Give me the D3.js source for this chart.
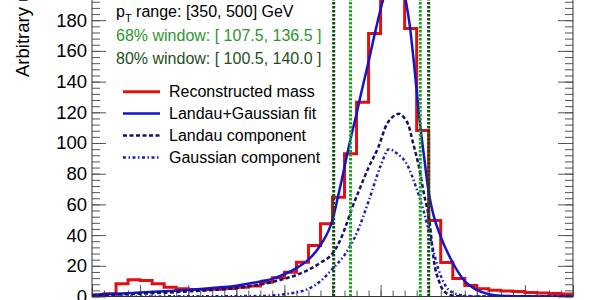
<!DOCTYPE html>
<html>
<head>
<meta charset="utf-8">
<script src="https://cdn.jsdelivr.net/npm/d3@7"></script>
<style>
body { margin: 0; background: #fff; }
text { font-family: "Liberation Sans", Arial, Helvetica, sans-serif; }
</style>
</head>
<body>
<script>
// reconstructed mass histogram, 5 GeV bins
const binLow = [0, 5, 10, 15, 20, 25, 30, 35, 40, 45, 50, 55, 60, 65, 70, 75, 80, 85, 90, 95,
  100, 105, 110, 115, 120, 125, 130, 135, 140, 145, 150, 155, 160, 165, 170, 175, 180, 185, 190, 195];
const binWidth = 5;
const histCounts = [1.0, 1.8, 8.3, 10.9, 10.4, 8.3, 6.1, 5.0, 4.6, 4.6, 4.8, 5.2, 6.0, 6.8, 9.3, 12.2, 15.8, 22.3, 33.2, 47.4,
  64.7, 93.0, 126.6, 171.3, 205, 212, 174.6, 108.1, 49.5, 22.1, 11.7, 7.2, 5.0, 4.1, 3.6, 3.3, 2.6, 2.3, 2.0, 1.6];

// Landau+Gaussian fit
const fitX = [0, 10, 20, 30, 40, 50, 60, 70, 75, 80, 85, 90, 95, 100, 102, 104, 106, 108, 110, 112, 115, 118, 121,
  124, 126, 128, 130, 132, 134, 136, 138, 140, 142, 145, 150, 155, 160, 165, 170, 180, 200];
const fitY = [1.0, 1.8, 2.6, 3.4, 4.3, 5.5, 7.0, 9.8, 11.5, 14.5, 18.5, 24, 33.5, 50, 63, 77, 92, 106, 119, 133, 153, 174, 193,
  205, 208, 205, 196, 178, 150, 118, 92, 68, 53, 39, 22, 10, 4.3, 1.5, 0.5, 0.1, 0];

const landauX = [0, 10, 20, 30, 40, 50, 60, 70, 75, 80, 85, 90, 95, 100, 103, 106, 108, 111, 115, 119, 122.5, 125, 127.6,
  130, 131.5, 133.5, 136, 138, 140.5, 142, 144.5, 147.5, 151, 160, 200];
const landauY = [0.8, 1.2, 1.8, 2.5, 3.3, 4.2, 5.5, 7.8, 9.5, 11.5, 14, 17.5, 22, 28, 36, 48, 57, 69, 84, 97, 112, 117, 119,
  116, 112, 100, 84, 67, 47, 25, 9, 2, 0.3, 0, 0];

const gaussX = [0, 70, 80, 90, 95, 100, 105, 110, 115, 120, 123.5, 127, 131, 135, 138, 141, 144, 147, 150, 155, 160, 200];
const gaussY = [0, 0.3, 1.5, 5, 10, 18, 27, 41, 62, 85, 96, 93, 86, 70, 55, 36, 18, 7, 2.5, 0.5, 0, 0];

const window68 = [107.5, 136.5];
const window80 = [100.5, 140.0];

const yLabels = [0, 20, 40, 60, 80, 100, 120, 140, 160, 180];
const yMajor = [0, 20, 40, 60, 80, 100, 120, 140, 160, 180, 200];
const yMinor = d3.range(0, 220, 4);
const xMajor = d3.range(0, 201, 20);
const xMinor = d3.range(0, 201, 5);

const legendItems = [
  { label: 'Reconstructed mass', color: '#e01010', width: 3, dash: null },
  { label: 'Landau+Gaussian fit', color: '#1414c8', width: 2.5, dash: null },
  { label: 'Landau component', color: '#10106e', width: 2.5, dash: '4,2.5' },
  { label: 'Gaussian component', color: '#1e1eb4', width: 2.5, dash: '3,2.5,1.5,2.5' },
];

const width = 600;
const height = 300;

const x = d3.scaleLinear().domain([0, 200]).range([92, 573]);
const y = d3.scaleLinear().domain([0, 220]).range([296.5, 296.5 - 220 * 1.535]);

const svg = d3.select('body').append('svg')
.attr('width', width)
.attr('height', height)
.attr('viewBox', `0 0 ${width} ${height}`);

svg.append('defs').append('clipPath')
.attr('id', 'plot')
.append('rect')
.attr('x', x(0))
.attr('y', y(220))
.attr('width', x(200) - x(0))
.attr('height', y(0) - y(220));

// axes: ticks only, frame drawn separately
const tickColor = '#555';
function styleAxis(g) {
  g.select('.domain').remove();
  g.selectAll('.tick line').attr('stroke', tickColor);
  g.selectAll('.tick text').attr('font-size', 18.5).attr('fill', '#000')
  .attr('font-family', '"Liberation Sans", Arial, sans-serif');
}

svg.append('g')
.attr('transform', `translate(${x(0)},0)`)
.call(d3.axisLeft(y).tickValues(yMinor).tickSizeInner(-8).tickSizeOuter(0).tickFormat(''))
.call(styleAxis);
svg.append('g')
.attr('transform', `translate(${x(0)},0)`)
.call(d3.axisLeft(y).tickValues(yMajor).tickSizeInner(-14).tickSizeOuter(0).tickFormat(''))
.call(styleAxis);
svg.append('g')
.attr('transform', `translate(${x(0)},0)`)
.call(d3.axisLeft(y).tickValues(yLabels).tickSizeInner(0).tickSizeOuter(0).tickPadding(5))
.call(styleAxis);

svg.append('g')
.attr('transform', `translate(${x(200)},0)`)
.call(d3.axisRight(y).tickValues(yMinor).tickSizeInner(-8).tickSizeOuter(0).tickFormat(''))
.call(styleAxis);
svg.append('g')
.attr('transform', `translate(${x(200)},0)`)
.call(d3.axisRight(y).tickValues(yMajor).tickSizeInner(-15).tickSizeOuter(0).tickFormat(''))
.call(styleAxis);

svg.append('g')
.attr('transform', `translate(0,${y(0)})`)
.call(d3.axisBottom(x).tickValues(xMinor).tickSizeInner(-6).tickSizeOuter(0).tickFormat(''))
.call(styleAxis);
svg.append('g')
.attr('transform', `translate(0,${y(0)})`)
.call(d3.axisBottom(x).tickValues(xMajor).tickSizeInner(-11.5).tickSizeOuter(0).tickFormat(''))
.call(styleAxis);

// frame
svg.append('rect')
.attr('x', x(0))
.attr('y', y(220))
.attr('width', x(200) - x(0))
.attr('height', y(0) - y(220))
.attr('fill', 'none')
.attr('stroke', '#333')
.attr('stroke-width', 1);

const plot = svg.append('g').attr('clip-path', 'url(#plot)');

// histogram outline
const histPts = [[0, 0]];
binLow.forEach((lo, i) => {
  histPts.push([lo, histCounts[i]]);
  histPts.push([lo + binWidth, histCounts[i]]);
});
histPts.push([200, 0]);

plot.append('path')
.attr('d', d3.line().x(d => x(d[0])).y(d => y(d[1]))(histPts))
.attr('fill', 'none')
.attr('stroke', legendItems[0].color)
.attr('stroke-width', 3);

const smooth = d3.line()
    .x(d => x(d[0]))
    .y(d => y(d[1]))
    .curve(d3.curveMonotoneX);

plot.append('path')
.attr('d', smooth(fitX.map((v, i) => [v, fitY[i]])))
.attr('fill', 'none')
.attr('stroke', legendItems[1].color)
.attr('stroke-width', 2.5);

plot.append('path')
.attr('d', smooth(landauX.map((v, i) => [v, landauY[i]])))
.attr('fill', 'none')
.attr('stroke', legendItems[2].color)
.attr('stroke-width', 2.5)
.attr('stroke-dasharray', legendItems[2].dash);

plot.append('path')
.attr('d', smooth(gaussX.map((v, i) => [v, gaussY[i]])))
.attr('fill', 'none')
.attr('stroke', legendItems[3].color)
.attr('stroke-width', 2.5)
.attr('stroke-dasharray', legendItems[3].dash);

// window lines
const lines = [
  { v: window80[0], color: '#0c4f0c' },
  { v: window80[1], color: '#0c4f0c' },
  { v: window68[0], color: '#1fa01f' },
  { v: window68[1], color: '#1fa01f' },
];
plot.selectAll('.win')
.data(lines)
.join('line')
.attr('x1', d => x(d.v))
.attr('x2', d => x(d.v))
.attr('y1', y(0))
.attr('y2', y(220))
.attr('stroke', d => d.color)
.attr('stroke-width', 3)
.attr('stroke-dasharray', '2.5,1.5');

// y title
svg.append('text')
.attr('transform', 'translate(28.5,77) rotate(-90)')
.attr('font-size', 18.5)
.attr('fill', '#000')
.text('Arbitrary units');

// annotations
const note = svg.append('text')
.attr('x', 116)
.attr('y', 17)
.attr('font-size', 16)
.attr('fill', '#000');
note.append('tspan').text('p');
note.append('tspan').attr('dy', 5).attr('font-size', 11).text('T');
note.append('tspan').attr('dy', -5).text(' range: [350, 500] GeV');

svg.append('text')
.attr('x', 116)
.attr('y', 40.7)
.attr('font-size', 16)
.attr('fill', '#2e962e')
.text(`68% window: [ ${window68[0].toFixed(1)}, ${window68[1].toFixed(1)} ]`);

svg.append('text')
.attr('x', 116)
.attr('y', 64)
.attr('font-size', 16)
.attr('fill', '#1d4f1d')
.text(`80% window: [ ${window80[0].toFixed(1)}, ${window80[1].toFixed(1)} ]`);

// legend
const legend = svg.append('g');
legendItems.forEach((d, i) => {
  const cy = 91.7 + i * 21.9;
  legend.append('line')
  .attr('x1', 123)
  .attr('x2', 160)
  .attr('y1', cy)
  .attr('y2', cy)
  .attr('stroke', d.color)
  .attr('stroke-width', d.width)
  .attr('stroke-dasharray', d.dash);
  legend.append('text')
  .attr('x', 169)
  .attr('y', cy + 5.7)
  .attr('font-size', 16)
  .attr('fill', '#000')
  .text(d.label);
});
</script>
</body>
</html>
